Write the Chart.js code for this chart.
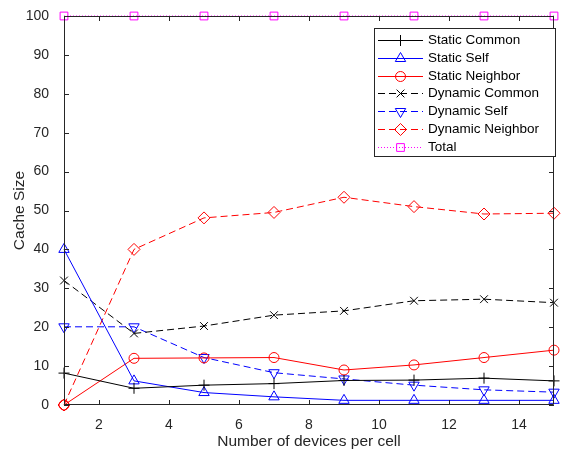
<!DOCTYPE html>
<html><head><meta charset="utf-8">
<script src="https://cdn.jsdelivr.net/npm/chart.js@4/dist/chart.umd.min.js"></script>
<style>html,body{margin:0;padding:0;background:#fff}#wrap{width:561px;height:454px}</style>
</head><body><div id="wrap"><canvas id="c" width="561" height="454"></canvas></div>
<script>
const devices = [1, 3, 5, 7, 9, 11, 13, 15];
const staticCommon = [8.2, 4.3, 5.1, 5.5, 6.3, 6.4, 6.9, 6.2];
const staticSelf = [40, 6.2, 3.2, 2.1, 1.2, 1.2, 1.2, 1.2];
const staticNeighbor = [0, 12, 12.1, 12.2, 9, 10.3, 12.2, 14.1];
const dynamicCommon = [32, 18.4, 20.3, 23.1, 24.2, 26.8, 27.2, 26.3];
const dynamicSelf = [20.1, 20.1, 12.2, 8.3, 6.7, 5.1, 3.9, 3.3];
const dynamicNeighbor = [0, 40, 48.1, 49.5, 53.4, 51, 49.1, 49.3];
const total = [100, 100, 100, 100, 100, 100, 100, 100];
const seriesNames = ['Static Common','Static Self','Static Neighbor','Dynamic Common','Dynamic Self','Dynamic Neighbor','Total'];
const xTicks = [2, 4, 6, 8, 10, 12, 14];
const yTicks = [0, 10, 20, 30, 40, 50, 60, 70, 80, 90, 100];
const xTitle = 'Number of devices per cell';
const yTitle = 'Cache Size';

const FONT = '"Liberation Sans", Arial, sans-serif';
const TXT = '#262626';
const pts = arr => devices.map((d, i) => ({x: d, y: arr[i]}));
const seriesColors = ['#000000', '#0000ff', '#ff0000', '#000000', '#0000ff', '#ff0000', '#ff00ff'];
const seriesMarkers = ['cross', 'triangle', 'circle', 'crossRot', 'triangle', 'rectRot', 'rect'];
const seriesRadius = [5.5, 6, 5, 5.5, 6, 6, 5.5];
const seriesRot = [0, 0, 0, 0, 180, 0, 0];
const seriesDash = [[], [], [], [7, 4], [7, 4], [7, 4], [1, 2]];
const seriesData = [staticCommon, staticSelf, staticNeighbor, dynamicCommon, dynamicSelf, dynamicNeighbor, total];

const datasets = seriesData.map((arr, i) => ({
  label: seriesNames[i], data: pts(arr), borderColor: seriesColors[i], backgroundColor: 'transparent',
  borderWidth: 1, borderDash: seriesDash[i].slice(), pointStyle: seriesMarkers[i], pointRadius: seriesRadius[i],
  pointRotation: seriesRot[i], pointBorderColor: seriesColors[i], pointBackgroundColor: 'transparent',
  pointBorderWidth: 1, pointHoverRadius: seriesRadius[i], tension: 0, clip: false
}));

function markerPath(ctx, style, x, y, r, rot) {
  ctx.beginPath();
  const rad = (rot || 0) * Math.PI / 180;
  if (style === 'circle') { ctx.arc(x, y, r, 0, Math.PI * 2); }
  else if (style === 'triangle') {
    let a = rad;
    ctx.moveTo(x + Math.sin(a) * r, y - Math.cos(a) * r);
    a += 2 * Math.PI / 3; ctx.lineTo(x + Math.sin(a) * r, y - Math.cos(a) * r);
    a += 2 * Math.PI / 3; ctx.lineTo(x + Math.sin(a) * r, y - Math.cos(a) * r);
    ctx.closePath();
  } else if (style === 'rectRot') {
    ctx.moveTo(x, y - r); ctx.lineTo(x + r, y); ctx.lineTo(x, y + r); ctx.lineTo(x - r, y); ctx.closePath();
  } else if (style === 'rect') {
    const s = r * Math.SQRT1_2; ctx.rect(x - s, y - s, 2 * s, 2 * s);
  } else if (style === 'cross') {
    ctx.moveTo(x, y - r); ctx.lineTo(x, y + r); ctx.moveTo(x - r, y); ctx.lineTo(x + r, y);
  } else if (style === 'crossRot') {
    const s = r * Math.SQRT1_2;
    ctx.moveTo(x - s, y - s); ctx.lineTo(x + s, y + s); ctx.moveTo(x - s, y + s); ctx.lineTo(x + s, y - s);
  }
}

const framePlugin = {
  id: 'frame',
  afterDatasetsDraw(chart) {
    const ctx = chart.ctx, a = chart.chartArea, xs = chart.scales.x, ys = chart.scales.y;
    ctx.save();
    ctx.strokeStyle = TXT; ctx.lineWidth = 1; ctx.setLineDash([]);
    ctx.beginPath();
    ctx.rect(Math.round(a.left) + 0.5, Math.round(a.top) + 0.5, Math.round(a.right - a.left) - 1, Math.round(a.bottom - a.top) - 1);
    const L = 5;
    xTicks.forEach(v => {
      const px = Math.round(xs.getPixelForValue(v)) + 0.5;
      ctx.moveTo(px, a.bottom); ctx.lineTo(px, a.bottom - L);
      ctx.moveTo(px, a.top); ctx.lineTo(px, a.top + L);
    });
    yTicks.forEach(v => {
      const py = Math.round(ys.getPixelForValue(v)) + 0.5;
      ctx.moveTo(a.left, py); ctx.lineTo(a.left + L, py);
      ctx.moveTo(a.right, py); ctx.lineTo(a.right - L, py);
    });
    ctx.stroke();
    ctx.restore();
  },
  afterDraw(chart) {
    const ctx = chart.ctx;
    const bx = 374.5, by = 28.5, bw = 181, bh = 128, rowH = 17.8, y0 = 40;
    ctx.save();
    ctx.setLineDash([]);
    ctx.fillStyle = '#ffffff'; ctx.fillRect(bx, by, bw, bh);
    ctx.strokeStyle = TXT; ctx.lineWidth = 1;
    ctx.strokeRect(bx, by, bw, bh);
    ctx.font = '13.5px ' + FONT; ctx.textBaseline = 'middle'; ctx.textAlign = 'left';
    for (let i = 0; i < seriesNames.length; i++) {
      const y = Math.round(y0 + i * rowH) + 0.5;
      const col = seriesColors[i];
      ctx.save();
      ctx.lineWidth = 1;
      ctx.strokeStyle = col;
      ctx.setLineDash(seriesDash[i].slice());
      ctx.beginPath(); ctx.moveTo(378, y); ctx.lineTo(423, y); ctx.stroke();
      ctx.restore();
      ctx.save();
      ctx.lineWidth = 1;
      ctx.strokeStyle = col;
      ctx.setLineDash([]);
      markerPath(ctx, seriesMarkers[i], 400.5, y, seriesRadius[i], seriesRot[i]);
      ctx.stroke();
      ctx.restore();
      ctx.fillStyle = '#000000';
      ctx.fillText(seriesNames[i], 428, y);
    }
    ctx.restore();
  }
};

new Chart(document.getElementById('c'), {
  type: 'line',
  data: { datasets },
  options: {
    responsive: false, animation: false, devicePixelRatio: 1,
    layout: { padding: { left: 0, top: 16, right: 1, bottom: 0 } },
    plugins: { legend: { display: false }, tooltip: { enabled: false } },
    scales: {
      x: {
        type: 'linear', min: 1, max: 15,
        afterBuildTicks: s => { s.ticks = xTicks.map(v => ({ value: v })); },
        afterFit: s => { s.height = 49; },
        grid: { display: false }, border: { display: false },
        ticks: { color: TXT, font: { family: FONT, size: 14 }, padding: 4, maxRotation: 0 },
        title: { display: true, text: xTitle, color: TXT, font: { family: FONT, size: 15.5 }, padding: { top: 2, bottom: 3 } }
      },
      y: {
        type: 'linear', min: 0, max: 100,
        afterBuildTicks: s => { s.ticks = yTicks.map(v => ({ value: v })); },
        afterFit: s => { s.width = 64; },
        grid: { display: false }, border: { display: false },
        ticks: { color: TXT, font: { family: FONT, size: 14 }, padding: 7 },
        title: { display: true, text: yTitle, color: TXT, font: { family: FONT, size: 15.5 }, padding: { top: 10, bottom: 4 } }
      }
    }
  },
  plugins: [framePlugin]
});
</script></body></html>
